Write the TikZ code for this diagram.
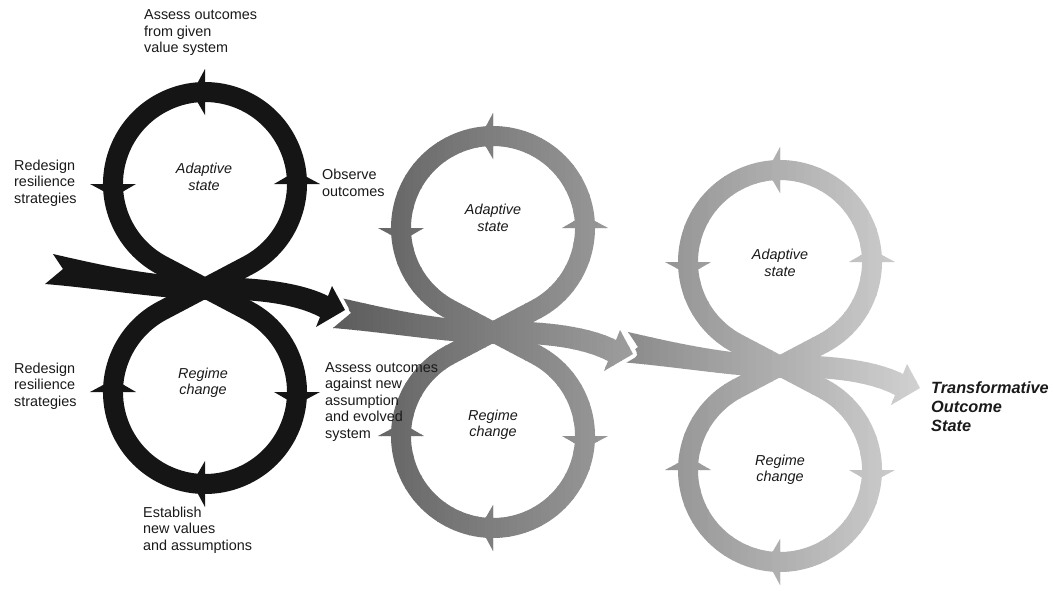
\documentclass[tikz,border=0pt]{standalone}
\usepackage{fontspec}
\setmainfont{Liberation Sans}
\definecolor{txt}{HTML}{1A1A1A}
\definecolor{figone}{HTML}{151515}
\definecolor{gtwol}{HTML}{5A5A5A}
\definecolor{gtwor}{HTML}{A0A0A0}
\definecolor{gthreel}{HTML}{888888}
\definecolor{gthreer}{HTML}{D4D4D4}
% figure-eight with flow band, drawn relative to its crossing point
\newcommand\eightshape[1]{%
  \draw[line width=20, #1, line join=round]
    (0,0) -- (42.9,-22.6)
    arc[start angle=62.2,end angle=-242.2,radius=92]
    -- (0,0) -- (42.9,22.6)
    arc[start angle=-62.2,end angle=242.2,radius=92]
    -- cycle;
  \begin{scope}[shift={(0,-104)}]
    \fill[#1] (270:69) -- (270:115) -- (262:92) -- cycle;
    \fill[#1] (180:69) -- (180:115) -- (172:92) -- cycle;
    \fill[#1] (0:69) -- (0:115) -- (-8:92) -- cycle;
  \end{scope}
  \begin{scope}[shift={(0,104)}]
    \fill[#1] (90:69) -- (90:115) -- (98:92) -- cycle;
    \fill[#1] (180:69) -- (180:115) -- (188:92) -- cycle;
    \fill[#1] (0:69) -- (0:115) -- (8:92) -- cycle;
  \end{scope}
  \fill[#1] (-152,-34) .. controls (-100,-22) and (-50,-11) .. (0,-11)
    .. controls (50,-11) and (95,-6) .. (123,8)
    -- (127,-2) -- (140,22) -- (111,39) -- (115,29)
    .. controls (90,16) and (50,10) .. (0,12)
    .. controls (-50,10) and (-110,0) .. (-160,-4)
    -- (-142,-19) -- cycle;
}
\newcommand\headhalo{%
  \filldraw[white, line width=8, line join=round] (127,-2) -- (140,22) -- (111,39) -- cycle;
}
% figure drawn in vertical strips to give a left-to-right gradient
\newcommand\stripfig[6]{%
  \foreach \i in {0,...,39}{%
    \pgfmathsetmacro\xa{#3+(#4-#3)*\i/40}%
    \pgfmathsetmacro\xb{#3+(#4-#3)*(\i+1)/40+0.8}%
    \pgfmathtruncatemacro\pc{100*(\i+0.5)/40}%
    \colorlet{cur}{#6!\pc!#5}%
    \begin{scope}
      \clip (\xa,0) rectangle (\xb,590);
      \begin{scope}[shift={(#1,#2)}]
        \eightshape{cur}
      \end{scope}
    \end{scope}
  }%
}
\begin{document}
\begin{tikzpicture}[x=1pt,y=-1pt,
  lbl/.style={font=\fontsize{14.4}{16.5}\selectfont, align=left, anchor=west, inner sep=0, text=txt},
  statelbl/.style={font=\fontsize{14.4}{16.5}\selectfont\itshape, align=center, inner sep=0, text=txt},
  finallbl/.style={font=\fontsize{16.3}{19}\selectfont\bfseries\itshape, align=left, anchor=west, inner sep=0, text=txt}]
\useasboundingbox (0,0) rectangle (1054,590);
\fill[white] (0,0) rectangle (1054,590);
% third (lightest) figure
\stripfig{780}{366}{612}{932}{gthreel}{gthreer}
% second figure
\begin{scope}[shift={(493,332)}]\headhalo\end{scope}
\stripfig{493}{332}{325}{645}{gtwol}{gtwor}
% first (black) figure
\begin{scope}[shift={(205,288)}]\headhalo\end{scope}
\begin{scope}[shift={(205,288)}]\eightshape{figone}\end{scope}
% labels
\node[lbl] (l1) at (144,33) {Assess outcomes\\from given\\value system};
\node[lbl] (l2) at (14,183) {Redesign\\resilience\\strategies};
\node[lbl] (l3) at (322,183) {Observe\\outcomes};
\node[lbl] (l4) at (14,386) {Redesign\\resilience\\strategies};
\node[lbl] (l5) at (325,402) {Assess outcomes\\against new\\assumption\\and evolved\\system};
\node[lbl] (l6) at (143,530) {Establish\\new values\\and assumptions};
\node[statelbl] (a1) at (204,177) {Adaptive\\state};
\node[statelbl] (r1) at (203,383) {Regime\\change};
\node[statelbl] (a2) at (493,218) {Adaptive\\state};
\node[statelbl] (r2) at (493,425) {Regime\\change};
\node[statelbl] (a3) at (780,263) {Adaptive\\state};
\node[statelbl] (r3) at (780,470) {Regime\\change};
\node[finallbl] (tf) at (931,407) {Transformative\\Outcome\\State};
\end{tikzpicture}
\end{document}
